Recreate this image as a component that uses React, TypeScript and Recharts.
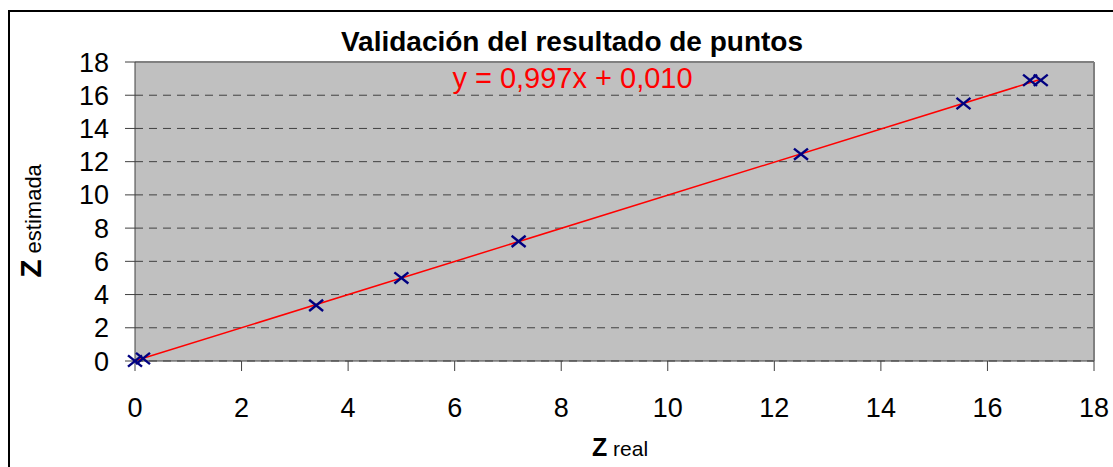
import { CartesianGrid, ReferenceLine, Scatter, ScatterChart, XAxis, YAxis } from "recharts";

const zReal = [0.0, 0.15, 3.4, 5.0, 7.2, 12.5, 15.55, 16.8, 17.0];
const zEstimada = [0.0, 0.15, 3.35, 5.0, 7.2, 12.45, 15.5, 16.9, 16.9];
const axisTicks = [0, 2, 4, 6, 8, 10, 12, 14, 16, 18];

const trendSlope = 0.997;
const trendIntercept = 0.01;
const trendFrom = 0;
const trendTo = 17;

const points = zReal.map((x, i) => ({ x, y: zEstimada[i] }));

const font = "'Liberation Sans', Arial, sans-serif";

const Cross = (props: any) => {
  const { cx, cy } = props;
  const s = 7;
  return (
    <g stroke="#000080" strokeWidth={2.4}>
      <line x1={cx - s} y1={cy - s * 0.8} x2={cx + s} y2={cy + s * 0.8} />
      <line x1={cx - s} y1={cy + s * 0.8} x2={cx + s} y2={cy - s * 0.8} />
    </g>
  );
};

const XTick = (props: any) => {
  const { x, y, payload } = props;
  return (
    <text x={x} y={y} dy={19} textAnchor="middle" fontSize={27} fontFamily={font} fill="#000">
      {payload.value}
    </text>
  );
};

const YTick = (props: any) => {
  const { x, y, payload } = props;
  return (
    <text x={x} y={y} dy={9.5} textAnchor="end" fontSize={27} fontFamily={font} fill="#000">
      {payload.value}
    </text>
  );
};

const App = () => {
  return (
    <div style={{ position: "absolute", left: 0, top: 0, width: 1113, height: 467, background: "#fff", overflow: "hidden", fontFamily: font }}>
      <div style={{ position: "absolute", left: 8, top: 10, width: 1200, height: 600, border: "2px solid #000", boxSizing: "border-box" }} />
      <div style={{ position: "absolute", left: 0, width: 1144, top: 25, textAlign: "center", fontSize: 28, fontWeight: "bold", lineHeight: "34px" }}>
        Validación del resultado de puntos
      </div>
      <div style={{ position: "absolute", left: 0, width: 1145, top: 61, textAlign: "center", fontSize: 29, color: "#ff0000", lineHeight: "34px", zIndex: 2 }}>
        y = 0,997x + 0,010
      </div>
      <div style={{ position: "absolute", left: 0, width: 1240, top: 430, textAlign: "center", lineHeight: "34px", color: "#000" }}>
        <span style={{ fontSize: 25, fontWeight: "bold" }}>Z</span>
        <span style={{ fontSize: 21 }}> real</span>
      </div>
      <div style={{ position: "absolute", left: 33, top: 221, width: 0, height: 0 }}>
        <div style={{ position: "absolute", transform: "translate(-50%, -50%) rotate(-90deg)", whiteSpace: "nowrap", lineHeight: "34px" }}>
          <span style={{ fontSize: 30, fontWeight: "bold" }}>Z</span>
          <span style={{ fontSize: 22 }}> estimada</span>
        </div>
      </div>
      <div style={{ position: "absolute", left: 0, top: 0 }}>
        <ScatterChart width={1113} height={467} margin={{ top: 62, right: 19, bottom: 6, left: 35 }}>
          <CartesianGrid horizontal vertical={false} fill="#c0c0c0" stroke="#404040" strokeDasharray="8 6" horizontalValues={axisTicks} />
          <XAxis
            type="number"
            dataKey="x"
            domain={[0, 18]}
            ticks={axisTicks}
            interval={0}
            height={100}
            tickSize={10}
            tickMargin={27}
            stroke="#404040"
            tick={<XTick />}
          />
          <YAxis
            type="number"
            dataKey="y"
            domain={[0, 18]}
            ticks={axisTicks}
            interval={0}
            width={100}
            tickSize={10}
            tickMargin={16}
            stroke="#404040"
            tick={<YTick />}
          />
          <ReferenceLine y={18} stroke="#808080" strokeWidth={2} />
          <ReferenceLine x={18} stroke="#808080" strokeWidth={2} />
          <ReferenceLine
            segment={[
              { x: trendFrom, y: trendSlope * trendFrom + trendIntercept },
              { x: trendTo, y: trendSlope * trendTo + trendIntercept },
            ]}
            stroke="#ff0000"
            strokeWidth={1.5}
          />
          <Scatter data={points} shape={<Cross />} isAnimationActive={false} />
        </ScatterChart>
      </div>
    </div>
  );
};

export default App;
